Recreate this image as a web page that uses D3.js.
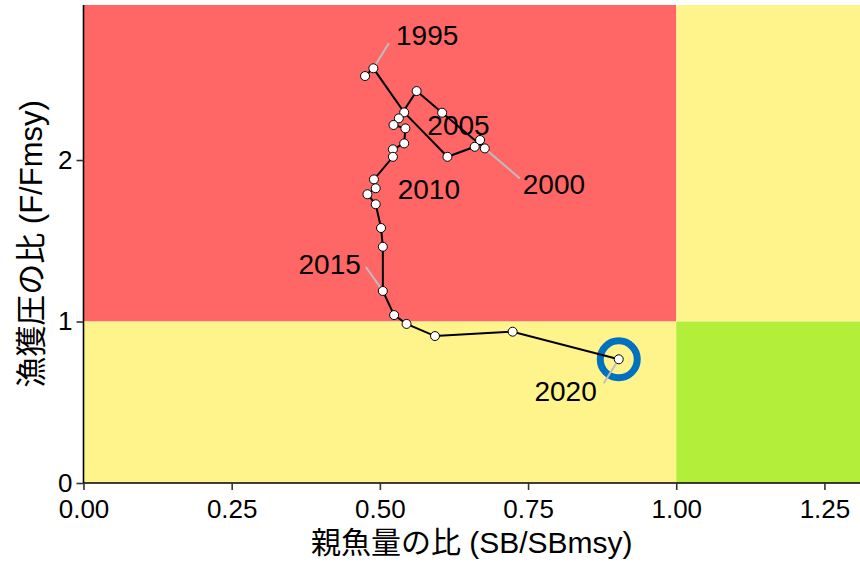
<!DOCTYPE html>
<html>
<head>
<meta charset="utf-8">
<script src="https://cdn.jsdelivr.net/npm/d3@7"></script>
<style>
  body { margin: 0; background: #fff; }
  svg text { font-family: "Liberation Sans", Arial, "Noto Sans CJK JP", sans-serif; }
</style>
</head>
<body>
<div class="kobe"></div>
<script>
/* data */
const years = [1994, 1995, 1996, 1997, 1998, 1999, 2000, 2001, 2002, 2003, 2004,
  2005, 2006, 2007, 2008, 2009, 2010, 2011, 2012, 2013, 2014, 2015, 2016, 2017,
  2018, 2019, 2020];
const sbRatio = [0.475, 0.489, 0.541, 0.614, 0.660, 0.669, 0.677, 0.605, 0.562,
  0.532, 0.523, 0.543, 0.541, 0.522, 0.522, 0.490, 0.493, 0.479, 0.493, 0.502,
  0.505, 0.505, 0.524, 0.545, 0.593, 0.724, 0.903];
const fRatio = [2.520, 2.568, 2.295, 2.020, 2.082, 2.124, 2.072, 2.293, 2.427,
  2.258, 2.217, 2.196, 2.103, 2.066, 2.020, 1.880, 1.825, 1.788, 1.726, 1.579,
  1.463, 1.189, 1.040, 0.985, 0.910, 0.937, 0.766];
const labelYears = [1995, 2000, 2005, 2010, 2015, 2020];
const xTicks = [0, 0.25, 0.5, 0.75, 1.0, 1.25];
const yTicks = [0, 1, 2];

const data = years.map((yr, i) => ({year: yr, sb: sbRatio[i], f: fRatio[i]}));

/* chart dimensions */
const W = 860, H = 563;
const margin = ({top: 5, right: 0, bottom: 80, left: 83.5});

const svg = d3.select('.kobe')
  .append('svg')
  .attr('width', W)
  .attr('height', H);

const xScale = d3.scaleLinear()
  .domain([0, 1.31])
  .range([margin.left, W - margin.right]);

const yScale = d3.scaleLinear()
  .domain([0, 2.96])
  .range([H - margin.bottom, margin.top]);

const [x0, x1] = xScale.domain();
const [y0, y1] = yScale.domain();

/* kobe zones */
const zones = [
  {xa: x0, xb: 1, ya: 1, yb: y1, fill: '#ff6767'},
  {xa: x0, xb: 1, ya: y0, yb: 1, fill: '#fff48c'},
  {xa: 1, xb: x1, ya: 1, yb: y1, fill: '#fff48c'},
  {xa: 1, xb: x1, ya: y0, yb: 1, fill: '#b3ee3a'}
];

svg.append('g')
  .selectAll('rect')
  .data(zones)
  .join('rect')
  .attr('x', d => xScale(d.xa))
  .attr('y', d => yScale(d.yb))
  .attr('width', d => xScale(d.xb) - xScale(d.xa))
  .attr('height', d => yScale(d.ya) - yScale(d.yb))
  .attr('fill', d => d.fill);

/* highlight ring on latest year */
const last = data[data.length - 1];
svg.append('circle')
  .attr('cx', xScale(last.sb))
  .attr('cy', yScale(last.f))
  .attr('r', 18.5)
  .attr('fill', 'none')
  .attr('stroke', '#0070c0')
  .attr('stroke-width', 7);

/* trajectory */
const line = d3.line()
  .x(d => xScale(d.sb))
  .y(d => yScale(d.f));

svg.append('path')
  .datum(data)
  .attr('d', line)
  .attr('fill', 'none')
  .attr('stroke', '#000')
  .attr('stroke-width', 2);

svg.append('g')
  .selectAll('circle')
  .data(data)
  .join('circle')
  .attr('cx', d => xScale(d.sb))
  .attr('cy', d => yScale(d.f))
  .attr('r', 4.5)
  .attr('fill', '#fff')
  .attr('stroke', '#000')
  .attr('stroke-width', 1);

/* year labels: pixel offsets from the point (text position, leader end) */
const labelPos = {
  1995: {dx: 22.7, dy: -23.3, anchor: 'start', lead: [15.5, -25]},
  2000: {dx: 38, dy: 45.7, anchor: 'start', lead: [35, 30]},
  2005: {dx: 22, dy: 7, anchor: 'start', lead: null},
  2010: {dx: 22, dy: 11, anchor: 'start', lead: null},
  2015: {dx: -22, dy: -17, anchor: 'end', lead: [-17, -24]},
  2020: {dx: -22, dy: 42, anchor: 'end', lead: [-15, 24]}
};

const labelled = data.filter(d => labelYears.includes(d.year));

svg.append('g')
  .selectAll('line')
  .data(labelled.filter(d => labelPos[d.year].lead))
  .join('line')
  .attr('x1', d => {
    const [lx, ly] = labelPos[d.year].lead;
    return xScale(d.sb) + lx * 5 / Math.hypot(lx, ly);
  })
  .attr('y1', d => {
    const [lx, ly] = labelPos[d.year].lead;
    return yScale(d.f) + ly * 5 / Math.hypot(lx, ly);
  })
  .attr('x2', d => xScale(d.sb) + labelPos[d.year].lead[0])
  .attr('y2', d => yScale(d.f) + labelPos[d.year].lead[1])
  .attr('stroke', '#bebebe')
  .attr('stroke-width', 2);

svg.append('g')
  .selectAll('text')
  .data(labelled)
  .join('text')
  .attr('x', d => xScale(d.sb) + labelPos[d.year].dx)
  .attr('y', d => yScale(d.f) + labelPos[d.year].dy)
  .attr('text-anchor', d => labelPos[d.year].anchor)
  .attr('font-size', 28)
  .attr('fill', '#000')
  .text(d => d.year);

/* axes */
const xAxis = d3.axisBottom(xScale)
  .tickValues(xTicks)
  .tickFormat(d3.format('.2f'))
  .tickSize(7)
  .tickPadding(10);

const yAxis = d3.axisLeft(yScale)
  .tickValues(yTicks)
  .tickFormat(d3.format('d'))
  .tickSize(7)
  .tickPadding(4);

const gx = svg.append('g')
  .attr('transform', `translate(0, ${H - margin.bottom})`)
  .call(xAxis);

const gy = svg.append('g')
  .attr('transform', `translate(${margin.left}, 0)`)
  .call(yAxis);

[gx, gy].forEach(g => {
  g.select('.domain').attr('stroke', '#000').attr('stroke-width', 1.6);
  g.selectAll('.tick line').attr('stroke', '#333').attr('stroke-width', 1.6);
  g.selectAll('.tick text')
    .attr('font-size', 26)
    .attr('fill', '#000')
    .style('font-family', '"Liberation Sans", Arial, sans-serif');
});

/* remove outer tick stubs of the domain path */
gx.select('.domain').attr('d', `M${margin.left},0H${W}`);
gy.select('.domain').attr('d', `M0,${H - margin.bottom}V${margin.top}`);

/* axis titles */
svg.append('text')
  .attr('x', (margin.left + W) / 2)
  .attr('y', 553)
  .attr('text-anchor', 'middle')
  .attr('font-size', 30)
  .attr('fill', '#000')
  .text('親魚量の比 (SB/SBmsy)');

svg.append('text')
  .attr('transform', `translate(42, ${(margin.top + H - margin.bottom) / 2}) rotate(-90)`)
  .attr('text-anchor', 'middle')
  .attr('font-size', 31)
  .attr('fill', '#000')
  .text('漁獲圧の比 (F/Fmsy)');
</script>
</body>
</html>
